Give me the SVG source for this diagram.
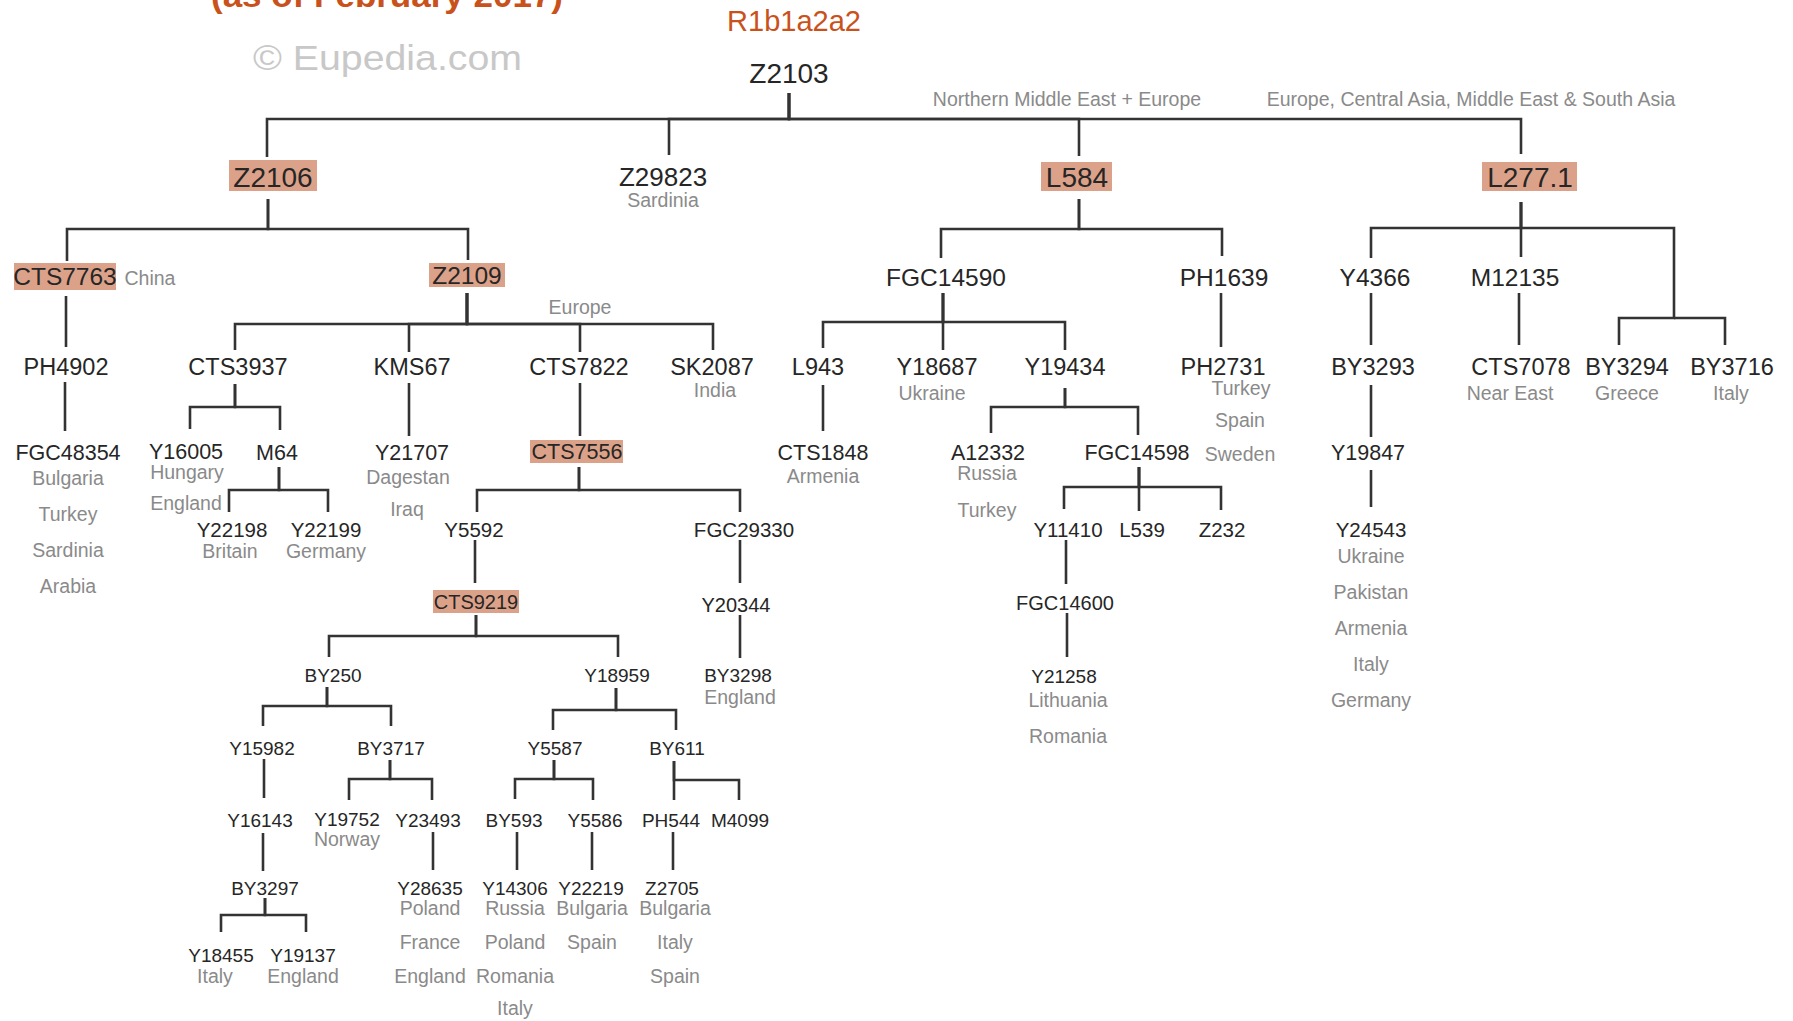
<svg xmlns="http://www.w3.org/2000/svg" width="1793" height="1021" viewBox="0 0 1793 1021">
<style>
text{font-family:"Liberation Sans",Arial,sans-serif}
.n{fill:#262626;text-anchor:middle}
.c{fill:#8a8a8a;text-anchor:middle;font-size:19.5px}
.s1{font-size:28px}.s2{font-size:24.5px}.s3{font-size:23.5px}.s4{font-size:21.5px}.s5{font-size:20.5px}.s6{font-size:20px}.s7{font-size:19px}
.hl{fill:#dca289}
.ln{fill:none;stroke:#333;stroke-width:2.6;stroke-linejoin:miter}
.title{fill:#c9521c;text-anchor:middle}
</style>
<rect width="1793" height="1021" fill="#fff"/>
<text class="title" x="387" y="7" font-size="33" font-weight="bold" textLength="352" lengthAdjust="spacingAndGlyphs">(as of February 2017)</text>
<text class="title" x="794" y="31" font-size="29">R1b1a2a2</text>
<text x="253" y="70" font-size="35" fill="#c8c8c8" textLength="269" lengthAdjust="spacingAndGlyphs">© Eupedia.com</text>
<text class="c" x="1067" y="106" font-size="19">Northern Middle East + Europe</text>
<text class="c" x="1471" y="106" font-size="19">Europe, Central Asia, Middle East &amp; South Asia</text>
<text class="c" x="580" y="314">Europe</text>
<g id="connectors" class="ln">
<path d="M789 93V119H267V157"/>
<path d="M789 93V119H669V155"/>
<path d="M789 93V119H1079V156"/>
<path d="M789 93V119H1521V154"/>
<path d="M268 199V229H67V261"/>
<path d="M268 199V229H468V260"/>
<path d="M1079 199V229H941V258"/>
<path d="M1079 199V229H1222V256"/>
<path d="M1521 202V228H1371V258"/>
<path d="M1521 202V257"/>
<path d="M1521 202V228H1674V318H1619V345"/>
<path d="M1674 318H1725V345"/>
<path d="M66 296V347"/>
<path d="M467 293V324H235V350"/>
<path d="M467 293V324H409V352"/>
<path d="M467 293V324H580V352"/>
<path d="M467 293V324H713V350"/>
<path d="M943 293V322H823V348"/>
<path d="M943 293V350"/>
<path d="M943 293V322H1065V350"/>
<path d="M1221 293V347"/>
<path d="M1371 293V345"/>
<path d="M1519 293V345"/>
<path d="M65 382V431"/>
<path d="M235 384V407H190V429"/>
<path d="M235 384V407H280V430"/>
<path d="M409 383V436"/>
<path d="M580 383V436"/>
<path d="M823 385V431"/>
<path d="M1065 388V407H991V433"/>
<path d="M1065 388V407H1138V435"/>
<path d="M1371 385V437"/>
<path d="M279 467V490H229V512"/>
<path d="M279 467V490H328V512"/>
<path d="M579 467V490H477V512"/>
<path d="M579 467V490H740V512"/>
<path d="M1139 467V487H1064V509"/>
<path d="M1139 467V511"/>
<path d="M1139 467V487H1221V510"/>
<path d="M1371 470V507"/>
<path d="M475 540V583"/>
<path d="M740 540V583"/>
<path d="M1066 540V584"/>
<path d="M476 615V636H329V657"/>
<path d="M476 615V636H618V657"/>
<path d="M740 615V658"/>
<path d="M1067 613V657"/>
<path d="M327 687V706H263V726"/>
<path d="M327 687V706H391V726"/>
<path d="M616 688V710H553V730"/>
<path d="M616 688V710H676V730"/>
<path d="M264 759V798"/>
<path d="M390 760V779H349V800"/>
<path d="M390 760V779H432V800"/>
<path d="M554 760V779H515V799"/>
<path d="M554 760V779H593V800"/>
<path d="M674 761V800"/>
<path d="M674 761V780H739V800"/>
<path d="M263 833V871"/>
<path d="M433 832V870"/>
<path d="M517 832V870"/>
<path d="M592 832V870"/>
<path d="M673 832V870"/>
<path d="M265 898V915H221V932"/>
<path d="M265 898V915H306V932"/>
</g>
<g id="Z2103"><text class="n s1" x="789" y="83">Z2103</text></g>
<g id="Z2106"><rect class="hl" x="229" y="160" width="88" height="31"/><text class="n s1" x="273" y="187">Z2106</text></g>
<g id="Z29823"><text class="n" x="663" y="186" font-size="26">Z29823</text><text class="c" x="663" y="207" font-size="19">Sardinia</text></g>
<g id="L584"><rect class="hl" x="1041" y="162" width="71" height="29"/><text class="n s1" x="1077" y="187">L584</text></g>
<g id="L277.1"><rect class="hl" x="1482" y="162" width="95" height="29"/><text class="n s1" x="1530" y="187">L277.1</text></g>
<g id="CTS7763"><rect class="hl" x="14" y="263" width="102" height="27"/><text class="n s2" x="65" y="285">CTS7763</text><text class="c" x="150" y="285">China</text></g>
<g id="Z2109"><rect class="hl" x="429" y="263" width="76" height="24"/><text class="n s2" x="467" y="284">Z2109</text></g>
<g id="FGC14590"><text class="n s2" x="946" y="286">FGC14590</text></g>
<g id="PH1639"><text class="n s2" x="1224" y="286">PH1639</text></g>
<g id="Y4366"><text class="n s2" x="1375" y="286">Y4366</text></g>
<g id="M12135"><text class="n s2" x="1515" y="286">M12135</text></g>
<g id="PH4902"><text class="n s3" x="66" y="375">PH4902</text></g>
<g id="CTS3937"><text class="n s3" x="238" y="375">CTS3937</text></g>
<g id="KMS67"><text class="n s3" x="412" y="375">KMS67</text></g>
<g id="CTS7822"><text class="n s3" x="579" y="375">CTS7822</text></g>
<g id="SK2087"><text class="n s3" x="712" y="375">SK2087</text><text class="c" x="715" y="397">India</text></g>
<g id="L943"><text class="n s3" x="818" y="375">L943</text></g>
<g id="Y18687"><text class="n s3" x="937" y="375">Y18687</text><text class="c" x="932" y="400">Ukraine</text></g>
<g id="Y19434"><text class="n s3" x="1065" y="375">Y19434</text></g>
<g id="PH2731"><text class="n s3" x="1223" y="375">PH2731</text><text class="c" x="1241" y="395" font-size="18">Turkey</text><text class="c" x="1240" y="427" font-size="18.5">Spain</text><text class="c" x="1240" y="461" font-size="18.5">Sweden</text></g>
<g id="BY3293"><text class="n s3" x="1373" y="375">BY3293</text></g>
<g id="CTS7078"><text class="n s3" x="1521" y="375">CTS7078</text><text class="c" x="1510" y="400">Near East</text></g>
<g id="BY3294"><text class="n s3" x="1627" y="375">BY3294</text><text class="c" x="1627" y="400">Greece</text></g>
<g id="BY3716"><text class="n s3" x="1732" y="375">BY3716</text><text class="c" x="1731" y="400">Italy</text></g>
<g id="FGC48354"><text class="n s4" x="68" y="460">FGC48354</text><text class="c" x="68" y="485">Bulgaria</text><text class="c" x="68" y="521">Turkey</text><text class="c" x="68" y="557">Sardinia</text><text class="c" x="68" y="593">Arabia</text></g>
<g id="Y16005"><text class="n s4" x="186" y="459">Y16005</text><text class="c" x="187" y="479" font-size="18.5">Hungary</text><text class="c" x="186" y="510">England</text></g>
<g id="M64"><text class="n s4" x="277" y="460">M64</text></g>
<g id="Y21707"><text class="n s4" x="412" y="460">Y21707</text><text class="c" x="408" y="484">Dagestan</text><text class="c" x="407" y="516">Iraq</text></g>
<g id="CTS7556"><rect class="hl" x="530" y="440" width="93" height="23"/><text class="n s4" x="577" y="459">CTS7556</text></g>
<g id="CTS1848"><text class="n s4" x="823" y="460">CTS1848</text><text class="c" x="823" y="483">Armenia</text></g>
<g id="A12332"><text class="n s4" x="988" y="460">A12332</text><text class="c" x="987" y="480">Russia</text><text class="c" x="987" y="517">Turkey</text></g>
<g id="FGC14598"><text class="n s4" x="1137" y="460">FGC14598</text></g>
<g id="Y19847"><text class="n s4" x="1368" y="460">Y19847</text></g>
<g id="Y22198"><text class="n s5" x="232" y="537">Y22198</text><text class="c" x="230" y="558">Britain</text></g>
<g id="Y22199"><text class="n s5" x="326" y="537">Y22199</text><text class="c" x="326" y="558">Germany</text></g>
<g id="Y5592"><text class="n s5" x="474" y="537">Y5592</text></g>
<g id="FGC29330"><text class="n s5" x="744" y="537">FGC29330</text></g>
<g id="Y11410"><text class="n s5" x="1068" y="537">Y11410</text></g>
<g id="L539"><text class="n s5" x="1142" y="537">L539</text></g>
<g id="Z232"><text class="n s5" x="1222" y="537">Z232</text></g>
<g id="Y24543"><text class="n s5" x="1371" y="537">Y24543</text><text class="c" x="1371" y="563">Ukraine</text><text class="c" x="1371" y="599">Pakistan</text><text class="c" x="1371" y="635">Armenia</text><text class="c" x="1371" y="671">Italy</text><text class="c" x="1371" y="707">Germany</text></g>
<g id="CTS9219"><rect class="hl" x="433" y="590" width="86" height="23"/><text class="n s6" x="476" y="609">CTS9219</text></g>
<g id="Y20344"><text class="n s6" x="736" y="612">Y20344</text></g>
<g id="FGC14600"><text class="n s6" x="1065" y="610">FGC14600</text></g>
<g id="BY250"><text class="n s7" x="333" y="682">BY250</text></g>
<g id="Y18959"><text class="n s7" x="617" y="682">Y18959</text></g>
<g id="BY3298"><text class="n s7" x="738" y="682">BY3298</text><text class="c" x="740" y="704">England</text></g>
<g id="Y21258"><text class="n s7" x="1064" y="683">Y21258</text><text class="c" x="1068" y="707">Lithuania</text><text class="c" x="1068" y="743">Romania</text></g>
<g id="Y15982"><text class="n s7" x="262" y="755">Y15982</text></g>
<g id="BY3717"><text class="n s7" x="391" y="755">BY3717</text></g>
<g id="Y5587"><text class="n s7" x="555" y="755">Y5587</text></g>
<g id="BY611"><text class="n s7" x="677" y="755">BY611</text></g>
<g id="Y16143"><text class="n s7" x="260" y="827">Y16143</text></g>
<g id="Y19752"><text class="n s7" x="347" y="826">Y19752</text><text class="c" x="347" y="846" font-size="17.5">Norway</text></g>
<g id="Y23493"><text class="n s7" x="428" y="827">Y23493</text></g>
<g id="BY593"><text class="n s7" x="514" y="827">BY593</text></g>
<g id="Y5586"><text class="n s7" x="595" y="827">Y5586</text></g>
<g id="PH544"><text class="n s7" x="671" y="827">PH544</text></g>
<g id="M4099"><text class="n s7" x="740" y="827">M4099</text></g>
<g id="BY3297"><text class="n s7" x="265" y="895">BY3297</text></g>
<g id="Y28635"><text class="n s7" x="430" y="895">Y28635</text><text class="c" x="430" y="915">Poland</text><text class="c" x="430" y="949">France</text><text class="c" x="430" y="983">England</text></g>
<g id="Y14306"><text class="n s7" x="515" y="895">Y14306</text><text class="c" x="515" y="915">Russia</text><text class="c" x="515" y="949">Poland</text><text class="c" x="515" y="983">Romania</text><text class="c" x="515" y="1015">Italy</text></g>
<g id="Y22219"><text class="n s7" x="591" y="895">Y22219</text><text class="c" x="592" y="915">Bulgaria</text><text class="c" x="592" y="949">Spain</text></g>
<g id="Z2705"><text class="n s7" x="672" y="895">Z2705</text><text class="c" x="675" y="915">Bulgaria</text><text class="c" x="675" y="949">Italy</text><text class="c" x="675" y="983">Spain</text></g>
<g id="Y18455"><text class="n s7" x="221" y="962">Y18455</text><text class="c" x="215" y="983">Italy</text></g>
<g id="Y19137"><text class="n s7" x="303" y="962">Y19137</text><text class="c" x="303" y="983">England</text></g>
</svg>
